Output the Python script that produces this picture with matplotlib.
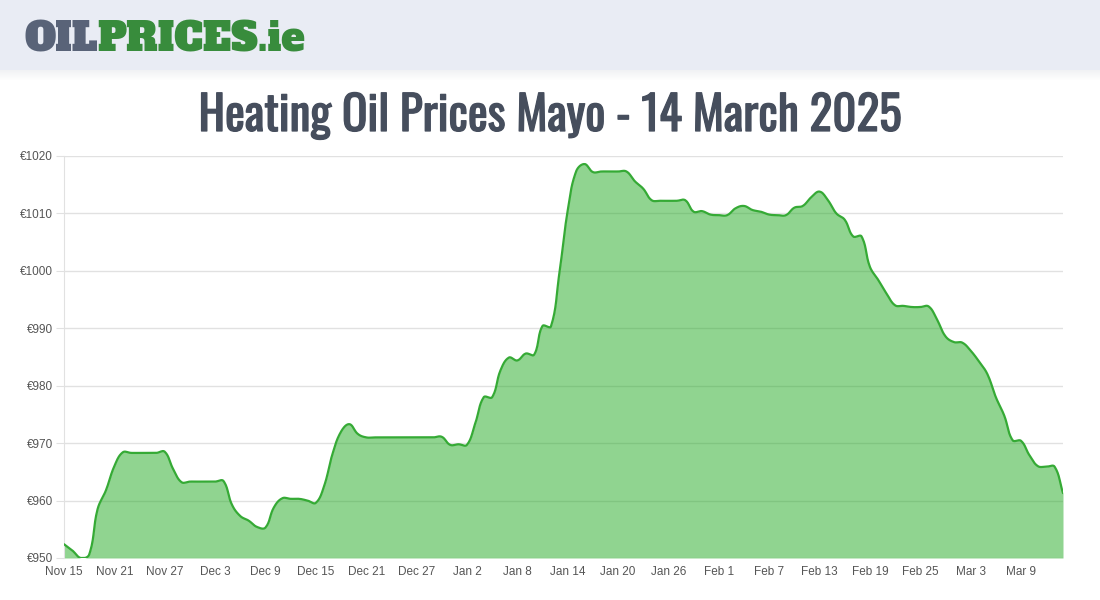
import numpy as np
import matplotlib
matplotlib.use('Agg')
import matplotlib.pyplot as plt
import matplotlib.patheffects as pe
from matplotlib import font_manager as fm
from matplotlib.patches import Rectangle

# daily prices, 15 Nov 2024 -> 14 Mar 2025
prices = [
    952.4, 951.3, 950.0, 950.6, 958.5, 961.8, 966.0, 968.4, 968.3, 968.3,
    968.3, 968.3, 968.5, 965.5, 963.2, 963.3, 963.3, 963.3, 963.3, 963.4,
    959.3, 957.3, 956.5, 955.4, 955.3, 958.8, 960.4, 960.3, 960.3, 960.0,
    959.6, 962.6, 968.2, 972.0, 973.3, 971.6, 971.0, 971.0, 971.0, 971.0,
    971.0, 971.0, 971.0, 971.0, 971.0, 971.1, 969.7, 969.8, 969.7, 973.5,
    978.0, 978.0, 982.7, 984.9, 984.4, 985.6, 985.4, 990.4, 990.3, 999.5,
    1010.5, 1017.3, 1018.6, 1017.2, 1017.3, 1017.3, 1017.3, 1017.3, 1015.6, 1014.3,
    1012.3, 1012.2, 1012.2, 1012.2, 1012.3, 1010.3, 1010.4, 1009.8, 1009.7, 1009.7,
    1010.9, 1011.3, 1010.6, 1010.3, 1009.8, 1009.7, 1009.7, 1011.0, 1011.3, 1012.8,
    1013.8, 1012.3, 1010.0, 1008.9, 1006.0, 1006.0, 1000.7, 998.4, 996.0, 994.0,
    993.9, 993.7, 993.7, 993.8, 991.5, 988.6, 987.6, 987.5, 986.1, 984.2,
    982.0, 978.0, 974.8, 970.5, 970.4, 967.9, 966.0, 965.9, 965.9, 961.3,
]
days = np.arange(len(prices))

tick_labels = ['Nov 15', 'Nov 21', 'Nov 27', 'Dec 3', 'Dec 9', 'Dec 15', 'Dec 21',
               'Dec 27', 'Jan 2', 'Jan 8', 'Jan 14', 'Jan 20', 'Jan 26', 'Feb 1',
               'Feb 7', 'Feb 13', 'Feb 19', 'Feb 25', 'Mar 3', 'Mar 9']
y_ticks = [950, 960, 970, 980, 990, 1000, 1010, 1020]

title = 'Heating Oil Prices Mayo - 14 March 2025'


def pick(*names):
    for n in names:
        try:
            fm.findfont(fm.FontProperties(family=n), fallback_to_default=False)
            return n
        except ValueError:
            pass
    return 'DejaVu Sans'


title_font = pick('Oswald', 'Liberation Sans Narrow', 'Roboto')
logo_font = pick('Alfa Slab One', 'Roboto Slab', 'DejaVu Serif')
tick_font = pick('Liberation Sans', 'Arial', 'DejaVu Sans')


def smooth(xs, ys, tension=0.4, sx=8.39, sy=5.74, n=16):
    """Chart.js style bezier smoothing, done in pixel-like space"""
    px = np.asarray(xs, float) * sx
    py = np.asarray(ys, float) * sy
    m = len(px)
    cp_in = np.zeros((m, 2))
    cp_out = np.zeros((m, 2))
    for i in range(m):
        p0 = np.array([px[max(i - 1, 0)], py[max(i - 1, 0)]])
        p1 = np.array([px[i], py[i]])
        p2 = np.array([px[min(i + 1, m - 1)], py[min(i + 1, m - 1)]])
        d01 = np.hypot(*(p1 - p0))
        d12 = np.hypot(*(p2 - p1))
        tot = d01 + d12
        s01 = d01 / tot if tot else 0
        s12 = d12 / tot if tot else 0
        cp_in[i] = p1 - tension * s01 * (p2 - p0)
        cp_out[i] = p1 + tension * s12 * (p2 - p0)
    t = np.linspace(0, 1, n, endpoint=False)[:, None]
    out = []
    for i in range(m - 1):
        a = np.array([px[i], py[i]])
        b = cp_out[i]
        c = cp_in[i + 1]
        d = np.array([px[i + 1], py[i + 1]])
        seg = (1 - t) ** 3 * a + 3 * (1 - t) ** 2 * t * b + 3 * (1 - t) * t ** 2 * c + t ** 3 * d
        out.append(seg)
    out.append(np.array([[px[-1], py[-1]]]))
    out = np.vstack(out)
    return out[:, 0] / sx, out[:, 1] / sy


fig = plt.figure(figsize=(11, 6), dpi=100)
fig.patch.set_facecolor('white')

# header band with a soft shadow
fig.patches.append(Rectangle((0, 1 - 70 / 600), 1, 70 / 600, transform=fig.transFigure,
                             facecolor='#e9ecf4', edgecolor='none', zorder=0))
for k in range(10):
    fig.patches.append(Rectangle((0, 1 - (71 + k) / 600), 1, 1 / 600, transform=fig.transFigure,
                                 facecolor='#d8dbe2', alpha=0.35 * (1 - k / 10),
                                 edgecolor='none', zorder=0))

# logo
logo_y = 1 - 51 / 600
t1 = fig.text(24 / 1100, logo_y, 'OIL', family=logo_font,
              fontsize=28.5, color='#596378', va='baseline', ha='left')
fig.canvas.draw()
bb = t1.get_window_extent()
fig.text(bb.x1 / 1100, logo_y, 'PRICES.ie', family=logo_font,
         fontsize=28.5, color='#388c3c', va='baseline', ha='left')

# title (Oswald only ships one weight here, so thicken it a little)
title_color = '#464e5d'
fig.text(0.5, 1 - 131 / 600, title, family=[title_font, 'DejaVu Sans'],
         fontsize=34, color=title_color, ha='center', va='baseline',
         path_effects=[pe.withStroke(linewidth=0.9, foreground=title_color)])

ax = fig.add_axes([64 / 1100, 42 / 600, 999 / 1100, 402 / 600])
sx, sy = smooth(days, prices)
sy = np.clip(sy, 950, 1020)
ax.fill_between(sx, 950, sy, color='#22aa22', alpha=0.5, linewidth=0, zorder=2)
ax.plot(sx, sy, color='#35aa35', linewidth=1.6, zorder=3, solid_capstyle='round')

ax.set_xlim(0, len(prices) - 1)
ax.set_ylim(950, 1020)
ax.set_yticks(y_ticks)
ax.set_yticklabels(['€%d' % v for v in y_ticks])
ax.set_xticks(days[::6][:len(tick_labels)])
ax.set_xticklabels(tick_labels)
ax.grid(axis='y', color='#e1e1e1', linewidth=1, zorder=1)
ax.set_axisbelow(True)
for s in ['top', 'right', 'bottom']:
    ax.spines[s].set_visible(False)
ax.spines['left'].set_color('#e1e1e1')
ax.tick_params(axis='y', length=6, color='#e1e1e1', pad=2, labelsize=8.5, labelcolor='#555555')
ax.tick_params(axis='x', length=0, pad=6, labelsize=8.5, labelcolor='#555555')
for lab in ax.get_xticklabels() + ax.get_yticklabels():
    lab.set_family([tick_font, 'DejaVu Sans'])

fig.savefig('out.png', dpi=100)
